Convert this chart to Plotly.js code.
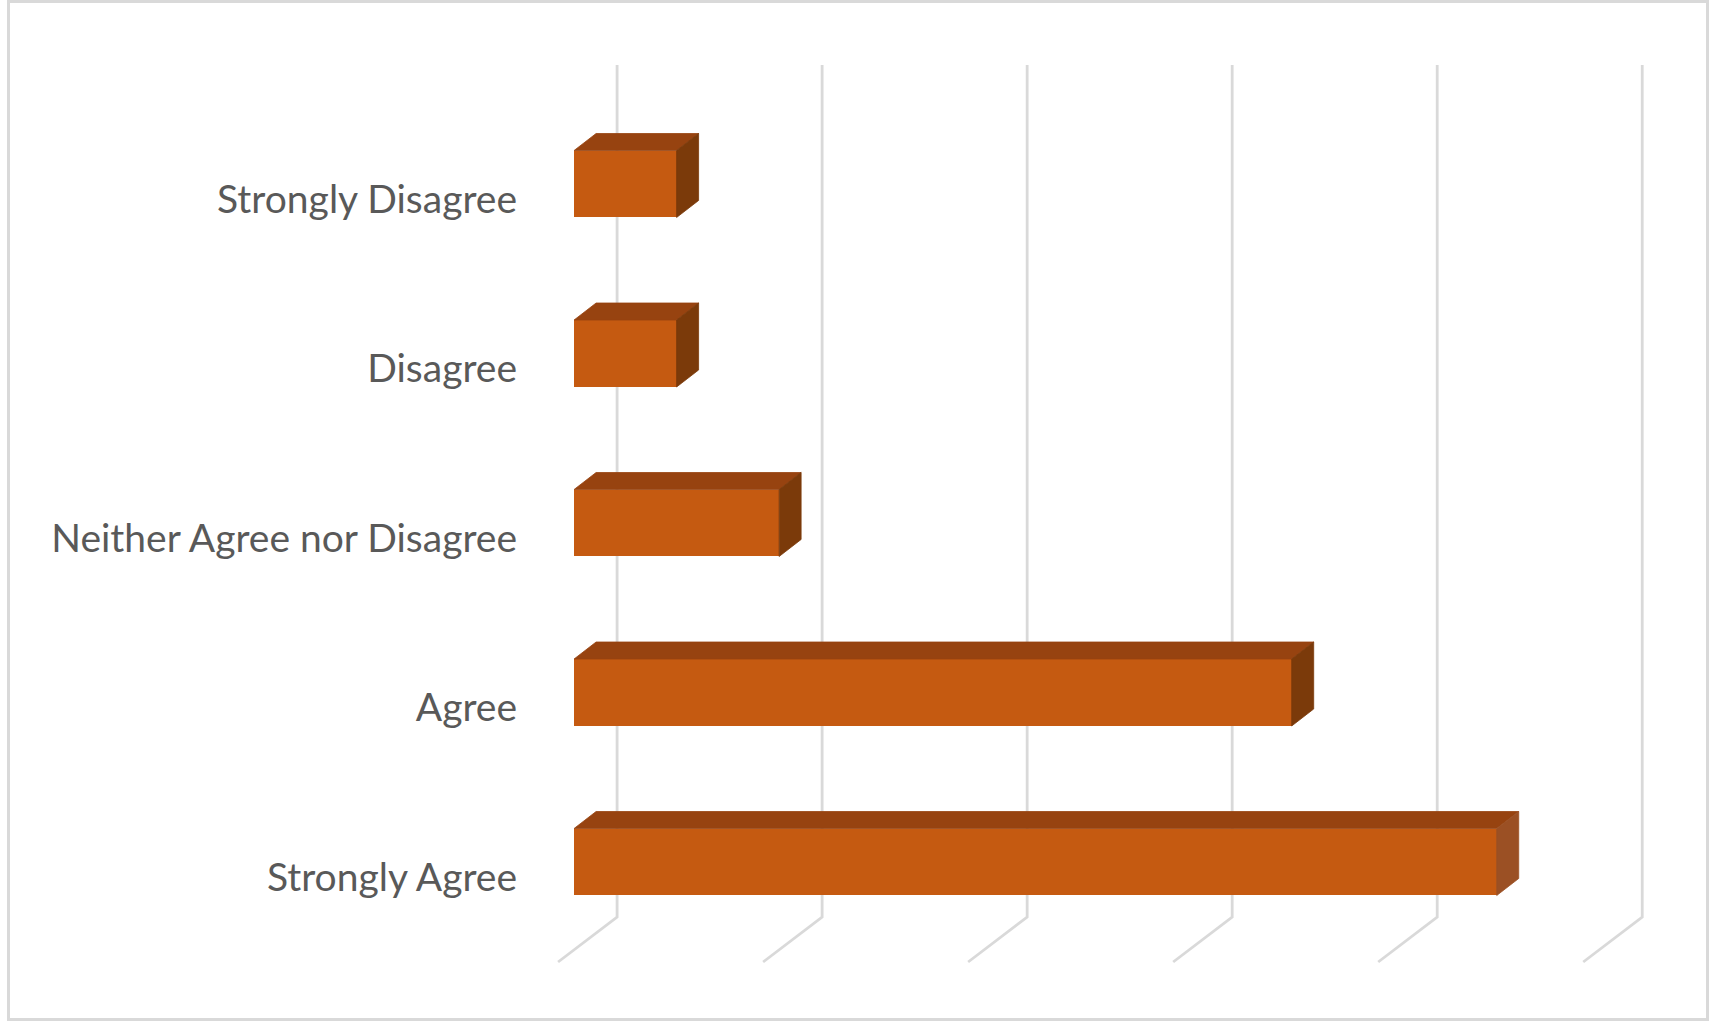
<!DOCTYPE html>
<html>
<head>
<meta charset="utf-8">
<script src="https://cdn.plot.ly/plotly-3.0.1.min.js"></script>
<style>
  html, body { margin: 0; padding: 0; background: #ffffff; }
  #chart { width: 1712px; height: 1021px; }
</style>
</head>
<body>
<div id="chart"></div>
<script>
// ---- data ----
const categories = ['Strongly Agree', 'Agree', 'Neither Agree nor Disagree', 'Disagree', 'Strongly Disagree'];
const values = [9, 7, 2, 1, 1];
const gridTicks = [0, 2, 4, 6, 8, 10];

// ---- style / 3D geometry (in axis units) ----
const frontColor = '#C55A11';
const topColor = '#974310';
const sideColors = ['#9B5024', '#7B3A0A', '#7B3A0A', '#7B3A0A', '#7B3A0A'];
const gridColor = '#D9D9D9';
const barOffset = 0.0885;   // front-face centre relative to category position
const barHalf = 0.1976;     // half height of front face
const depthX = 0.2146;      // bar depth offset along x
const depthY = 0.1003;      // bar depth offset along y
const wallX = 0.4195;       // back wall offset along x
const wallTop = 4.79, wallBottom = -0.236;
const floorX = -0.156, floorFront = -0.5015;

const xr = [-0.43, 11.10];
const yr = [-0.8496, 5.174];

const pos = categories.map((c, i) => i);

// gridlines: back wall verticals + floor diagonals
const gx = [], gy = [];
gridTicks.forEach(t => {
  gx.push(t + wallX, t + wallX, t + floorX, null);
  gy.push(wallTop, wallBottom, floorFront, null);
});

const traces = [];
traces.push({
  type: 'scatter', mode: 'lines', x: gx, y: gy, xaxis: 'x', yaxis: 'y',
  line: { color: gridColor, width: 2.8 }, hoverinfo: 'skip', showlegend: false
});

// front faces as real bars
traces.push({
  type: 'bar', orientation: 'h', x: values, y: pos.map(p => p + barOffset),
  base: 0, width: barHalf * 2, xaxis: 'x2', yaxis: 'y2',
  marker: { color: frontColor, line: { width: 0 } },
  hoverinfo: 'x', showlegend: false
});

// top and side faces
values.forEach((v, i) => {
  const c = pos[i] + barOffset;
  traces.push({
    type: 'scatter', mode: 'lines', fill: 'toself', xaxis: 'x2', yaxis: 'y2',
    x: [0, v, v + depthX, depthX, 0],
    y: [c + barHalf, c + barHalf, c + barHalf + depthY, c + barHalf + depthY, c + barHalf],
    fillcolor: topColor, line: { width: 0.8, color: topColor }, hoverinfo: 'skip', showlegend: false
  });
  traces.push({
    type: 'scatter', mode: 'lines', fill: 'toself', xaxis: 'x2', yaxis: 'y2',
    x: [v, v + depthX, v + depthX, v, v],
    y: [c - barHalf, c - barHalf + depthY, c + barHalf + depthY, c + barHalf, c - barHalf],
    fillcolor: sideColors[i], line: { width: 0.8, color: sideColors[i] }, hoverinfo: 'skip', showlegend: false
  });
});

const hidden = { showgrid: false, zeroline: false, showline: false, showticklabels: false, ticks: '', fixedrange: true };

const layout = {
  width: 1712, height: 1021,
  margin: { l: 530, r: 0, t: 0, b: 0, pad: 0 },
  paper_bgcolor: '#ffffff', plot_bgcolor: 'rgba(0,0,0,0)',
  font: { family: 'Lato, "Open Sans", sans-serif', color: '#595959' },
  xaxis: Object.assign({}, hidden, { range: xr }),
  yaxis: {
    range: yr, tickmode: 'array', tickvals: pos, ticktext: categories,
    showgrid: false, zeroline: false, showline: false, ticks: '',
    ticklabelstandoff: 12,
    tickfont: { family: 'Lato, "Open Sans", sans-serif', size: 39, color: '#595959' },
    fixedrange: true
  },
  xaxis2: Object.assign({}, hidden, { range: xr, overlaying: 'x', anchor: 'y2' }),
  yaxis2: Object.assign({}, hidden, { range: yr, overlaying: 'y', anchor: 'x2' }),
  bargap: 0,
  showlegend: false,
  shapes: [{
    type: 'rect', xref: 'paper', yref: 'paper',
    x0: (8.5 - 530) / 1182, x1: (1707.5 - 530) / 1182,
    y0: 1.5 / 1021, y1: 1 - 1.5 / 1021,
    line: { color: '#D9D9D9', width: 3 }, fillcolor: 'rgba(0,0,0,0)', layer: 'below'
  }]
};

Plotly.newPlot('chart', traces, layout, { displayModeBar: false, staticPlot: true });
</script>
</body>
</html>
